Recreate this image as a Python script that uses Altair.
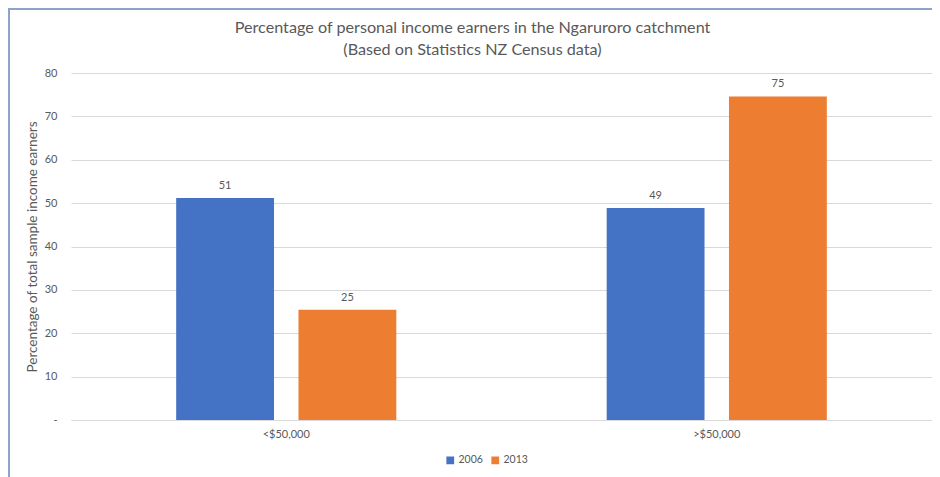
import altair as alt
import pandas as pd

categories = ["<$50,000", "<$50,000", ">$50,000", ">$50,000"]
years = ["2006", "2013", "2006", "2013"]
values = [51.2, 25.4, 48.9, 74.6]
y_ticks = [0, 10, 20, 30, 40, 50, 60, 70, 80]
colors = ["#4472C4", "#ED7D31"]

df = pd.DataFrame({"cat": categories, "year": years, "value": values})

FONT = "Lato"
GREY = "#595959"
W, H = 861, 347
PL, PT, PB = 63, 65, 57

x = alt.X("cat:N", title=None,
          scale=alt.Scale(paddingInner=0, paddingOuter=0),
          axis=alt.Axis(labelAngle=0, labelPadding=8, ticks=False,
                        domain=True, domainColor="#d9d9d9", labelFontSize=11,
                        labelColor=GREY, labelFont=FONT))
xo = alt.XOffset("year:N", scale=alt.Scale(paddingInner=0.2, paddingOuter=0.86))
y = alt.Y("value:Q", title="Percentage of total sample income earners",
          scale=alt.Scale(domain=[0, 80], nice=False),
          axis=alt.Axis(values=y_ticks, labelExpr="datum.value == 0 ? '-' : datum.label",
                        domain=False, ticks=False, labelPadding=14, labelFontSize=11,
                        labelColor=GREY, labelFont=FONT, gridColor="#d9d9d9",
                        titleFontSize=13.5, titleFontWeight="normal", titleColor=GREY,
                        titleFont=FONT, titlePadding=5))
color = alt.Color("year:N", scale=alt.Scale(domain=["2006", "2013"], range=colors),
                  legend=alt.Legend(title=None, orient="none", direction="horizontal",
                                    legendX=374, legendY=382, symbolType="square",
                                    symbolSize=60, labelFontSize=10.5, labelColor=GREY,
                                    labelFont=FONT, columnPadding=7, labelOffset=3,
                                    symbolStrokeWidth=0))

bars = alt.Chart(df).mark_bar().encode(x=x, xOffset=xo, y=y, color=color)
labels = alt.Chart(df).mark_text(dy=-12, fontSize=11, color=GREY, font=FONT).encode(
    x=x, xOffset=xo, y=y, text=alt.Text("value:Q", format=".0f"))

frame_left = alt.Chart(df).mark_rule(color="#8fa3c8", strokeWidth=2).encode(
    x=alt.value(-PL + 1), y=alt.value(-PT), y2=alt.value(H + PB))
frame_top = alt.Chart(df).mark_rule(color="#8fa3c8", strokeWidth=2).encode(
    x=alt.value(-PL), x2=alt.value(W), y=alt.value(-PT + 1))

chart = alt.layer(bars, labels, frame_left, frame_top).properties(
    width=W, height=H,
    autosize=alt.AutoSizeParams(type="none"),
    padding={"left": PL, "top": PT, "right": 0, "bottom": PB},
    title=alt.TitleParams(
        ["Percentage of personal income earners in the Ngaruroro catchment",
         "(Based on Statistics NZ Census data)"],
        anchor="middle", frame="group", fontSize=16.2, fontWeight="normal",
        color=GREY, font=FONT, lineHeight=22, offset=-51, dx=-29),
).configure_view(stroke=None)

chart.save("out.html", embed_options={"renderer": "svg", "actions": False})
